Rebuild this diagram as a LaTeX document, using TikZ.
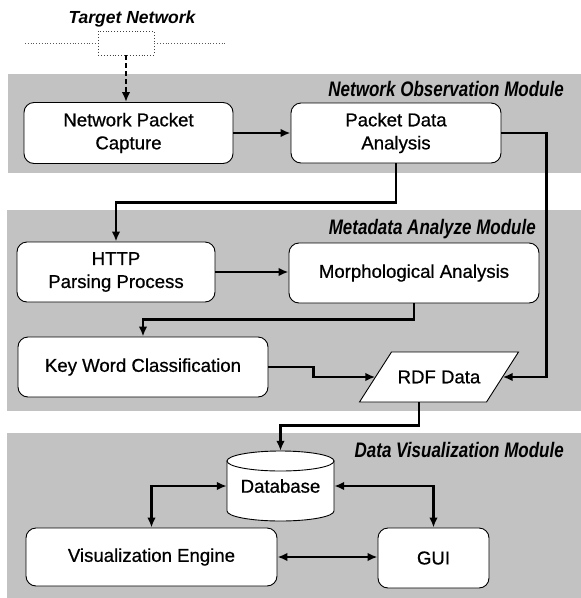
\documentclass[tikz,border=0pt]{standalone}
\usepackage{fontspec}
\setmainfont{Liberation Sans}
\newfontfamily\heavyfam[FakeBold=0.7]{Liberation Sans}
\usetikzlibrary{arrows.meta}
\newcommand\boxfont{\heavyfam\fontsize{18.6}{23}\selectfont}
\newcommand\modfont{\fontsize{21}{24}\selectfont\bfseries\itshape}
\newcommand\tgtfont{\fontsize{17.5}{20}\selectfont\bfseries\itshape}
\begin{document}
\begin{tikzpicture}[x=1pt,y=-1pt,
  band/.style={fill=black!24, draw=none},
  box/.style={draw=black, line width=0.9pt, rounded corners=10pt, fill=white, align=center, font=\boxfont, inner sep=0pt},
  tip/.tip={Latex[length=10pt,width=8.5pt]},
  flow/.style={line width=2.6pt, -tip},
  flowtwo/.style={line width=2.6pt, tip-tip},
  modlabel/.style={anchor=base east, font=\modfont, inner sep=0pt},
  outline/.style={draw=black, line width=0.9pt, fill=white},
]
\useasboundingbox (0,0) rectangle (581,598);

% module bands
\fill[band] (8,74) rectangle (581,173);
\fill[band] (7,210) rectangle (581,411);
\fill[band] (7,433) rectangle (581,598);

% module labels
\node[modlabel] (lab1) at (564,96) {\scalebox{0.81}[1]{Network Observation Module}};
\node[modlabel] (lab2) at (536,234) {\scalebox{0.81}[1]{Metadata Analyze Module}};
\node[modlabel] (lab3) at (564,457) {\scalebox{0.81}[1]{Data Visualization Module}};

% target network
\node[anchor=base, font=\tgtfont, inner sep=0pt] (tn) at (132,23) {Target Network};
\node[draw=black!75, dotted, line width=0.9pt, fill=white, minimum width=56, minimum height=24, inner sep=0pt] (tbox) at (126,43) {};
\coordinate (netL) at (25,43);
\coordinate (netR) at (227,43);
\draw[black!65, dotted, line width=0.8pt] (netL) -- (tbox.west);
\draw[black!65, dotted, line width=0.8pt] (tbox.east) -- (netR);

% boxes
\node[box, minimum width=209, minimum height=61] (npc) at (128.5,133) {Network Packet\\Capture};
\node[box, minimum width=210, minimum height=60] (pda) at (396,133) {Packet Data\\Analysis};
\node[box, minimum width=198, minimum height=60] (http) at (116,272) {HTTP\\Parsing Process};
\node[box, minimum width=250, minimum height=60] (morph) at (414,273) {Morphological Analysis};
\node[box, minimum width=250, minimum height=60] (kw) at (143,367) {Key Word Classification};
\node[box, minimum width=251, minimum height=58] (ve) at (151.5,557) {Visualization Engine};
\node[box, minimum width=111, minimum height=60] (gui) at (433.5,558) {GUI};

% RDF data parallelogram
\filldraw[outline] (391.5,352) -- (518.5,352) -- (486.5,402) -- (359.5,402) -- cycle;
\node[inner sep=0pt, minimum width=127, minimum height=50, font=\boxfont] (rdf) at (439,377) {RDF Data};

% database cylinder
\filldraw[outline] (227,461) -- (227,511) arc[start angle=180, end angle=0, x radius=53.5, y radius=10] -- (334,461) -- cycle;
\filldraw[outline] (280.5,461) ellipse[x radius=53.5, y radius=10];
\node[inner sep=0pt, minimum width=107, minimum height=70, font=\boxfont] (db) at (280.5,486) {Database};

% connectors
\draw[line width=2.6pt, dash pattern=on 5pt off 3pt, -tip] (tbox.south) -- (tbox.south |- npc.north);
\draw[flow] (npc.east) -- (npc.east -| pda.west);
\draw[flow] (pda.south) -- ++(0,39) -| (http.north);
\draw[flow] (pda.east) -- ++(45,0) |- (rdf.east);
\draw[flow] (http.east) -- (http.east -| morph.west);
\draw[flow] (morph.south) -- ++(0,16) -| (kw.north);
\draw[flow] (kw.east) -- ++(45,0) |- (rdf.west);
\draw[flow] ([xshift=-20pt]rdf.south) -- ++(0,23) -| (db.north);
\draw[flowtwo] (db.west) -| (ve.north);
\draw[flowtwo] (db.east) -| (gui.north);
\draw[flowtwo] (ve.east) -- (ve.east -| gui.west);
\end{tikzpicture}
\end{document}
